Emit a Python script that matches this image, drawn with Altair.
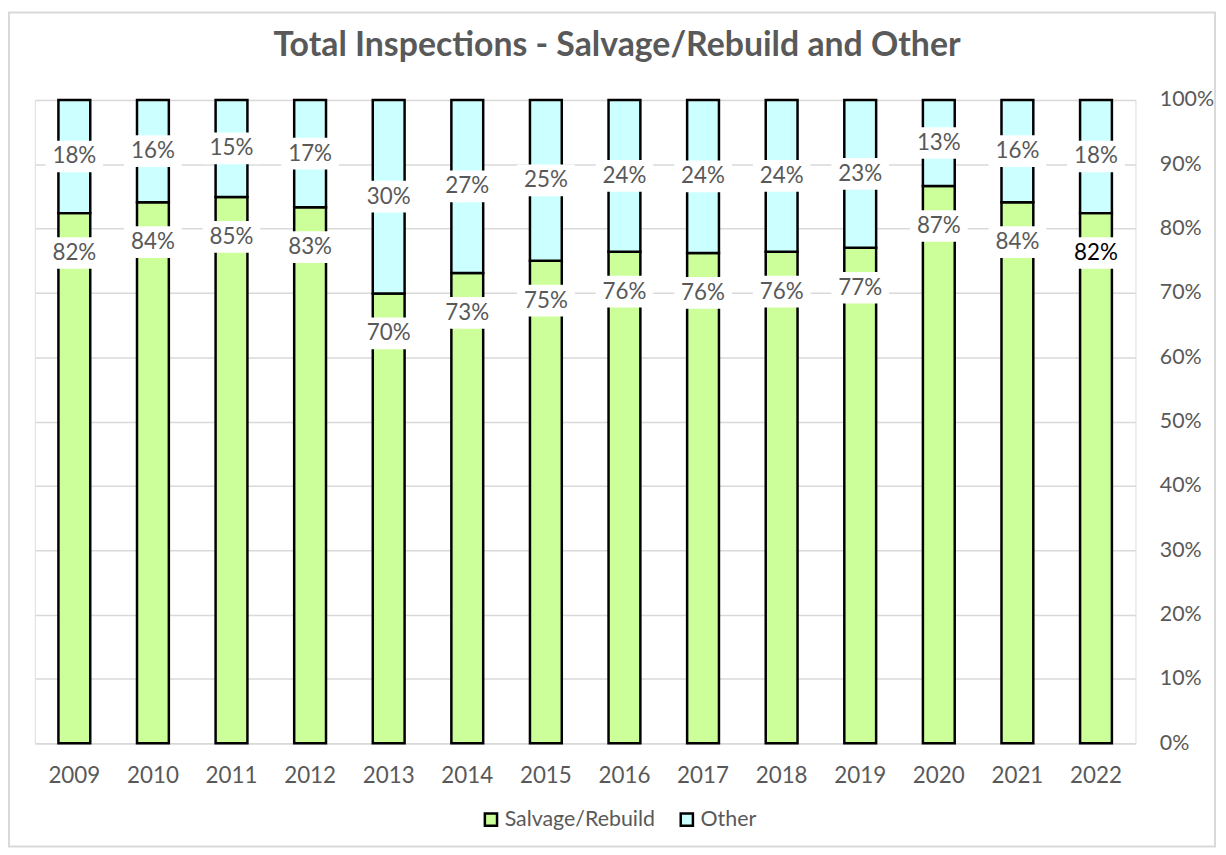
import altair as alt
import pandas as pd

years = ["2009", "2010", "2011", "2012", "2013", "2014", "2015",
         "2016", "2017", "2018", "2019", "2020", "2021", "2022"]
salvage = [82.4, 84.1, 84.9, 83.3, 69.9, 73.1, 75.0, 76.4, 76.2, 76.4, 77.0, 86.6, 84.1, 82.4]
other = [round(100 - s, 1) for s in salvage]
series_names = ["Salvage/Rebuild", "Other"]
series_colors = ["#ccff99", "#ccffff"]

rows = []
for i, y in enumerate(years):
    rows.append({"year": y, "series": "Salvage/Rebuild", "order": 0,
                 "value": salvage[i] / 100, "base": salvage[i] / 100})
    rows.append({"year": y, "series": "Other", "order": 1,
                 "value": other[i] / 100, "base": salvage[i] / 100})
df = pd.DataFrame(rows)

FONT = "Lato"
GRAY = "#595959"
FS = 22.5
W, H = 1107, 647

x_enc = alt.X("year:N", sort=years,
              scale=alt.Scale(paddingInner=0.595, paddingOuter=0.3),
              axis=alt.Axis(title=None, labelAngle=0, ticks=False, domain=True,
                            domainColor="#d9d9d9", domainWidth=1.5,
                            labelPadding=22, labelFontSize=FS, labelColor=GRAY,
                            labelFont=FONT))

bars = alt.Chart(df).mark_bar(stroke="black", strokeWidth=2.5).encode(
    x=x_enc,
    y=alt.Y("value:Q", stack="zero",
            scale=alt.Scale(domain=[0, 1], nice=False),
            axis=alt.Axis(title=None, orient="right", format=".0%",
                          values=[i / 10 for i in range(11)],
                          grid=True, gridColor="#d9d9d9", gridWidth=1.5,
                          domain=False, ticks=False, labelPadding=24,
                          labelFontSize=21.5, labelColor=GRAY, labelFont=FONT)),
    color=alt.Color("series:N", sort=series_names,
                    scale=alt.Scale(domain=series_names, range=series_colors),
                    legend=alt.Legend(title=None, orient="none", direction="horizontal",
                                      legendX=448, legendY=713,
                                      symbolType="square", symbolSize=150,
                                      symbolStrokeColor="black", symbolStrokeWidth=2.5,
                                      labelFontSize=FS - 1, labelColor=GRAY, labelFont=FONT,
                                      columnPadding=20, labelOffset=3)),
    order=alt.Order("order:Q"),
)

labels_base = alt.Chart(df).transform_calculate(
    labely="datum.series == 'Salvage/Rebuild' ? datum.value - 0.062 : (datum.base + 1) / 2",
    txt="format(datum.value, '.0%')",
    emph="datum.year == '2022' && datum.series == 'Salvage/Rebuild' ? 'y' : 'n'",
)

boxes = labels_base.mark_point(
    shape="M-1,-0.55H1V0.55H-1Z", filled=True, fill="white", opacity=1,
    strokeWidth=0, size=58 * 58,
).encode(
    x=alt.X("year:N", sort=years),
    y=alt.Y("labely:Q"),
)

texts = labels_base.mark_text(font=FONT, fontSize=FS, baseline="middle", align="center").encode(
    x=alt.X("year:N", sort=years),
    y=alt.Y("labely:Q"),
    text="txt:N",
    color=alt.condition("datum.emph == 'y'", alt.value("#000000"), alt.value(GRAY)),
)

border = alt.Chart(pd.DataFrame({"a": [0]})).mark_rect(
    fill=None, fillOpacity=0, stroke="#d9d9d9", strokeWidth=2
).encode(
    x=alt.value(-26), x2=alt.value(1187), y=alt.value(-88), y2=alt.value(751)
)

chart = alt.layer(bars, boxes, texts, border).resolve_scale(
    y="shared"
).properties(
    width=W, height=H,
    title=alt.TitleParams("Total Inspections - Salvage/Rebuild and Other",
                          font=FONT, fontSize=34, fontWeight="bold", color=GRAY,
                          anchor="middle", frame="group", dx=32, offset=-86,
                          baseline="bottom"),
    autosize=alt.AutoSizeParams(type="none"),
    padding={"left": 27, "top": 90, "right": 83, "bottom": 106},
).configure_view(stroke=None).configure(background="white")

chart.save("out.html", embed_options={"renderer": "svg", "actions": False})
